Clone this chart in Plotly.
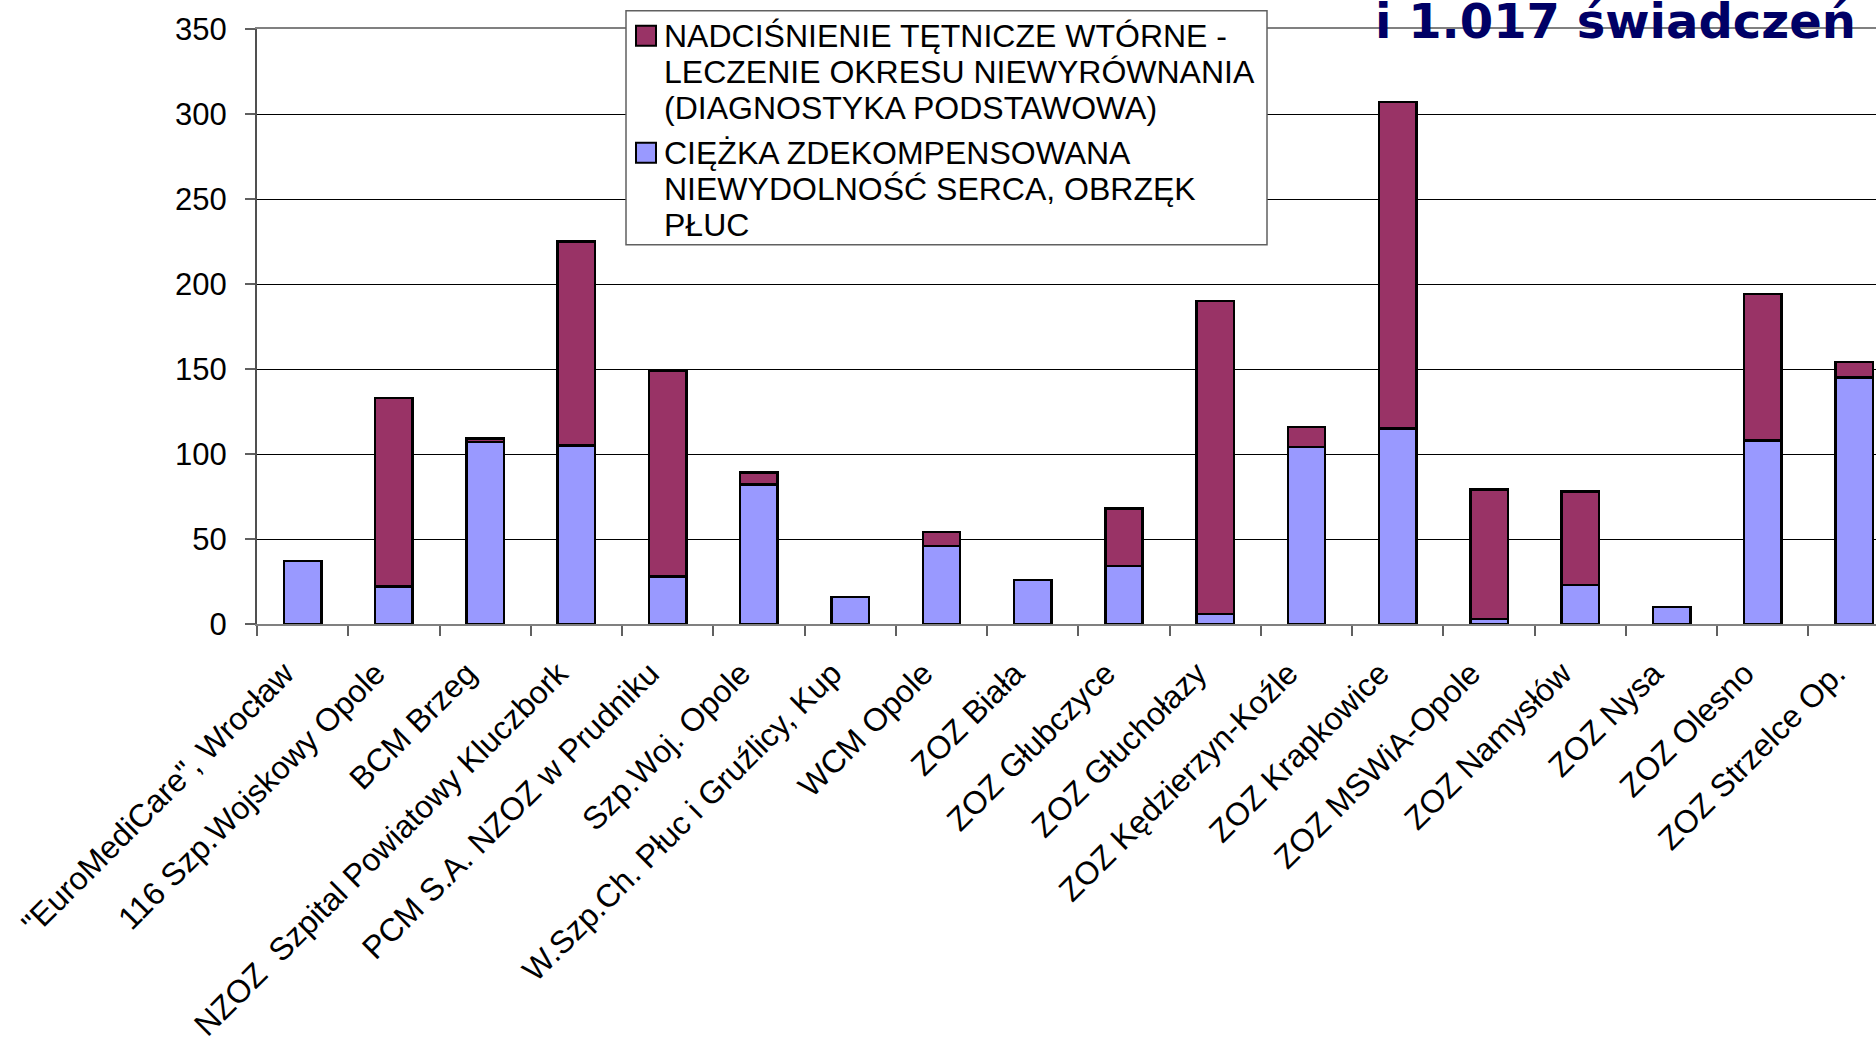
import plotly.graph_objects as go

categories = [
    '"EuroMediCare", Wrocław',
    '116 Szp.Wojskowy Opole',
    'BCM Brzeg',
    'NZOZ  Szpital Powiatowy Kluczbork',
    'PCM S.A. NZOZ w Prudniku',
    'Szp.Woj. Opole',
    'W.Szp.Ch. Płuc i Gruźlicy, Kup',
    'WCM Opole',
    'ZOZ Biała',
    'ZOZ Głubczyce',
    'ZOZ Głuchołazy',
    'ZOZ Kędzierzyn-Koźle',
    'ZOZ Krapkowice',
    'ZOZ MSWiA-Opole',
    'ZOZ Namysłów',
    'ZOZ Nysa',
    'ZOZ Olesno',
    'ZOZ Strzelce Op.',
]

niewydolnosc = [37, 22, 107, 105, 28, 82, 16, 46, 26, 34, 6, 104, 115, 3, 23, 10, 108, 145]
nadcisnienie = [0, 111, 2, 120, 121, 7, 0, 8, 0, 34, 184, 12, 192, 76, 55, 0, 86, 9]

legend_red_lines = ["NADCIŚNIENIE TĘTNICZE WTÓRNE -", "LECZENIE OKRESU NIEWYRÓWNANIA", "(DIAGNOSTYKA PODSTAWOWA)"]
legend_blue_lines = ["CIĘŻKA ZDEKOMPENSOWANA", "NIEWYDOLNOŚĆ SERCA, OBRZĘK", "PŁUC"]
title_text = "i 1.017 świadczeń"

RED = "#993366"
BLUE = "#9999FF"
FONT = "Liberation Sans, Arial, sans-serif"

W, H = 1876, 1039
left, top, bottom_px = 257, 29.3, 624.3
plot_h = bottom_px - top
plot_w = W - left


def px_x(px):
    return (px - left) / plot_w


def px_y(py):
    return (bottom_px - py) / plot_h


fig = go.Figure()
fig.add_trace(go.Bar(
    x=categories, y=niewydolnosc, name="<br>".join(legend_blue_lines),
    marker=dict(color=BLUE, line=dict(color="black", width=2.5)),
))
fig.add_trace(go.Bar(
    x=categories, y=nadcisnienie, name="<br>".join(legend_red_lines),
    marker=dict(color=RED, line=dict(color="black", width=2.5)),
))

# legend drawn as box + swatches + text lines
shapes = [
    dict(type="rect", xref="paper", yref="paper", layer="above",
         x0=px_x(626), x1=px_x(1267), y0=px_y(11), y1=px_y(245),
         fillcolor="white", line=dict(color="#606060", width=1.5)),
    dict(type="rect", xref="paper", yref="paper", layer="above",
         x0=px_x(636), x1=px_x(656), y0=px_y(26), y1=px_y(46),
         fillcolor=RED, line=dict(color="black", width=2)),
    dict(type="rect", xref="paper", yref="paper", layer="above",
         x0=px_x(636), x1=px_x(656), y0=px_y(143), y1=px_y(163),
         fillcolor=BLUE, line=dict(color="black", width=2)),
]

annotations = []
line_centers_red = [36, 72, 108]
line_centers_blue = [153, 189, 225]
for txt, cy in zip(legend_red_lines + legend_blue_lines, line_centers_red + line_centers_blue):
    annotations.append(dict(
        text=txt, xref="paper", yref="paper",
        x=px_x(662), y=px_y(cy), xanchor="left", yanchor="middle",
        showarrow=False, font=dict(family=FONT, size=32, color="black"),
    ))

annotations.append(dict(
    text=title_text,
    xref="paper", yref="paper",
    x=px_x(1858), y=px_y(21),
    xanchor="right", yanchor="middle",
    showarrow=False,
    font=dict(family="DejaVu Sans, Verdana, sans-serif", size=48, color="#000066", weight="bold"),
))

fig.update_layout(
    width=W, height=H,
    barmode="stack",
    bargap=0.59,
    paper_bgcolor="white",
    plot_bgcolor="white",
    margin=dict(l=left, r=0, t=top, b=H - bottom_px, pad=0, autoexpand=False),
    font=dict(family=FONT, color="black", size=31),
    showlegend=False,
    xaxis=dict(
        type="category",
        range=[-0.5, 17.24],
        automargin=False,
        tickangle=-45,
        tickson="boundaries",
        ticks="outside",
        ticklen=10,
        tickwidth=1.5,
        tickcolor="#606060",
        showline=True,
        linecolor="#808080",
        linewidth=2,
        mirror=True,
        showgrid=False,
        ticklabelstandoff=16,
        ticklabelshift=-18,
        tickfont=dict(size=32, family=FONT, color="black"),
    ),
    yaxis=dict(
        range=[0, 350],
        tickvals=[0, 50, 100, 150, 200, 250, 300, 350],
        automargin=False,
        ticks="outside",
        ticklen=10,
        tickwidth=1.5,
        tickcolor="#606060",
        showline=True,
        linecolor="#505050",
        linewidth=2,
        showgrid=True,
        gridcolor="black",
        gridwidth=1.2,
        zeroline=False,
        ticklabelstandoff=12,
        tickfont=dict(size=31, family=FONT, color="black"),
    ),
    shapes=shapes,
    annotations=annotations,
)

fig.write_html(
    "out.html",
    config={"displayModeBar": False},
    post_script="document.body.style.margin='0';document.body.style.overflow='hidden';",
)
